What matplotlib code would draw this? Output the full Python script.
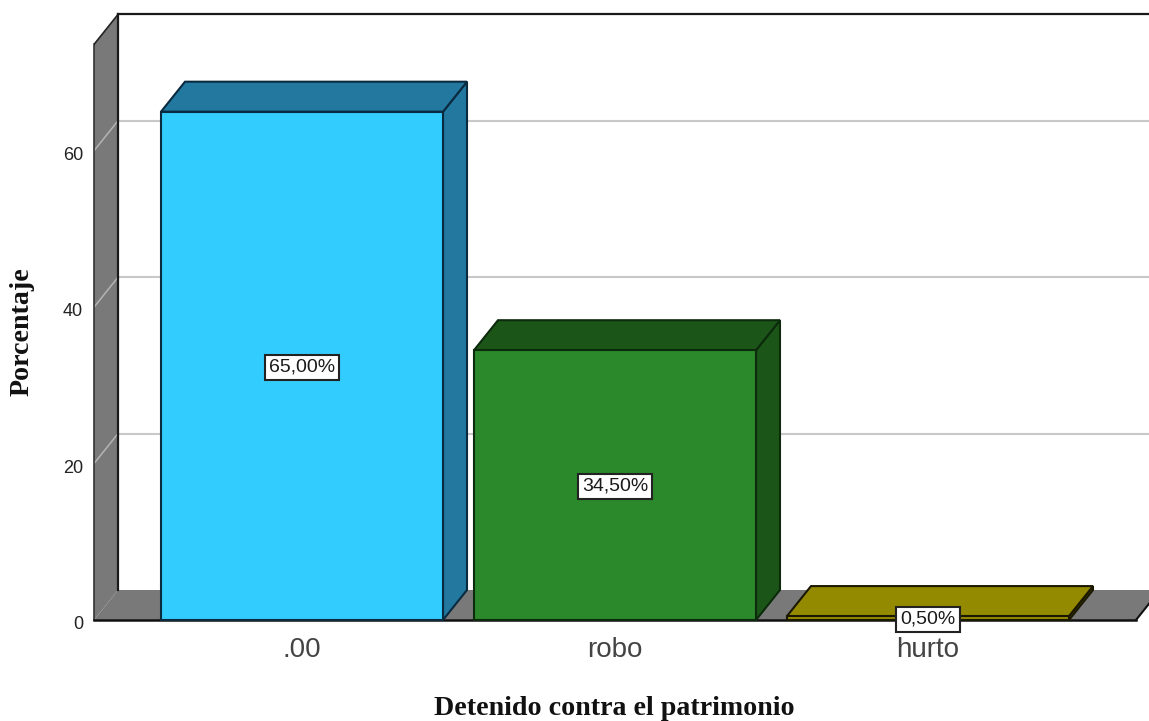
import matplotlib
matplotlib.use("Agg")
from matplotlib import pyplot as plt
from matplotlib.patches import Polygon
from matplotlib.transforms import ScaledTranslation

categories = [".00", "robo", "hurto"]
percentages = [65.0, 34.5, 0.5]
value_labels = ["65,00%", "34,50%", "0,50%"]
y_ticks = [0, 20, 40, 60]

front_colors = ["#33CCFF", "#2B882B", "#948A00"]
side_colors = ["#22789F", "#1C5518", "#5E5600"]
top_colors = ["#22789F", "#1C5518", "#948A00"]
edge_colors = ["#0A2A40", "#0C2A0C", "#1A1800"]

W, H = 1149, 721
px_left, px_bottom = 94, 620
x0_px, x_step = 302, 313     # pixel of the first category, pixels per category
y_step = 7.82                # pixels per percent

fig = plt.figure(figsize=(W / 100, H / 100), dpi=100)
ax = fig.add_axes([px_left / W, 1 - px_bottom / H, (W - px_left) / W, px_bottom / H])
ax.set_xlim((px_left - x0_px) / x_step, (W - x0_px) / x_step)
ax.set_ylim(0, px_bottom / y_step)

# depth of the fake 3d, in data units
dx = 24 / x_step
dy = 30 / y_step
bar_w = 282 / x_step
wall_x = ax.get_xlim()[0]
floor_end = (1136 - x0_px) / x_step
wall_top = 73.6


def poly(points, face, edge="none", lw=1.5, z=1):
    ax.add_patch(Polygon(points, closed=True, facecolor=face, edgecolor=edge,
                         linewidth=lw, zorder=z, clip_on=False, joinstyle="miter"))


#========================================
#             Walls and floor
#========================================
poly([(wall_x, 0), (wall_x + dx, dy), (wall_x + dx, wall_top + dy), (wall_x, wall_top)], "#797979")
poly([(wall_x, 0), (floor_end, 0), (floor_end + dx, dy), (wall_x + dx, dy)], "#797979")

right = ax.get_xlim()[1]
for t in y_ticks[1:]:
    ax.plot([wall_x, wall_x + dx], [t, t + dy], color="#B4B4B4", lw=1.1, zorder=2)
    ax.plot([wall_x + dx, right], [t + dy, t + dy], color="#C8C8C8", lw=1.5, zorder=2)

ax.plot([wall_x, wall_x], [0, wall_top], color="#333333", lw=1.2, zorder=3, clip_on=False)
ax.plot([wall_x, wall_x + dx], [wall_top, wall_top + dy], color="#222222", lw=1.2, zorder=3)
ax.plot([wall_x + dx, wall_x + dx], [dy, wall_top + dy], color="#1A1A1A", lw=1.6, zorder=3)
ax.plot([wall_x + dx, right], [wall_top + dy, wall_top + dy], color="#1A1A1A", lw=1.6, zorder=3)
ax.plot([wall_x, floor_end], [0, 0], color="#111111", lw=1.8, zorder=3, clip_on=False)
ax.plot([floor_end, floor_end + dx], [0, dy], color="#111111", lw=1.5, zorder=3)

#========================================
#                 Bars
#========================================
for i, value in enumerate(percentages):
    l = i - bar_w / 2
    r = i + bar_w / 2
    poly([(r, 0), (r + dx, dy), (r + dx, value + dy), (r, value)], side_colors[i], edge_colors[i], 1.5, 4)
    poly([(l, value), (r, value), (r + dx, value + dy), (l + dx, value + dy)], top_colors[i], edge_colors[i], 1.5, 4)
    ax.bar(i, value, width=bar_w, color=front_colors[i], edgecolor=edge_colors[i], linewidth=1.5,
           zorder=5, clip_on=False)

for i, value in enumerate(percentages):
    ax.annotate(value_labels[i], (i, value / 2), xytext=(0, -1), textcoords="offset points",
                ha="center", va="center", fontsize=14, family="Liberation Sans", color="#1A1A1A",
                zorder=7, annotation_clip=False,
                bbox=dict(boxstyle="square,pad=0.2", facecolor="white", edgecolor="#222222", linewidth=1.5))

#========================================
#              Axis text
#========================================
ax.set_xticks(range(len(categories)))
ax.set_xticklabels(categories, fontsize=20, family="Liberation Sans", color="#444444")
ax.set_yticks(y_ticks)
ax.set_yticklabels([str(t) for t in y_ticks], fontsize=13, family="Liberation Sans", color="#222222")
ax.tick_params(axis="x", length=0, pad=12)
ax.tick_params(axis="y", length=0, pad=8)
for lab in ax.get_yticklabels():
    lab.set_transform(lab.get_transform() + ScaledTranslation(0, -2.5 / 100, fig.dpi_scale_trans))
for s in ax.spines.values():
    s.set_visible(False)
ax.patch.set_visible(False)

fig.text(614 / W, 1 - 715 / H, "Detenido contra el patrimonio", ha="center", va="baseline",
         fontsize=20.2, fontweight="bold", family="Liberation Serif", color="#111111")
fig.text(35 / W, 1 - 332 / H, "Porcentaje", ha="right", va="center", rotation=90, rotation_mode="default",
         fontsize=20.2, fontweight="bold", family="Liberation Serif", color="#111111")

fig.savefig("out.png", dpi=100)
